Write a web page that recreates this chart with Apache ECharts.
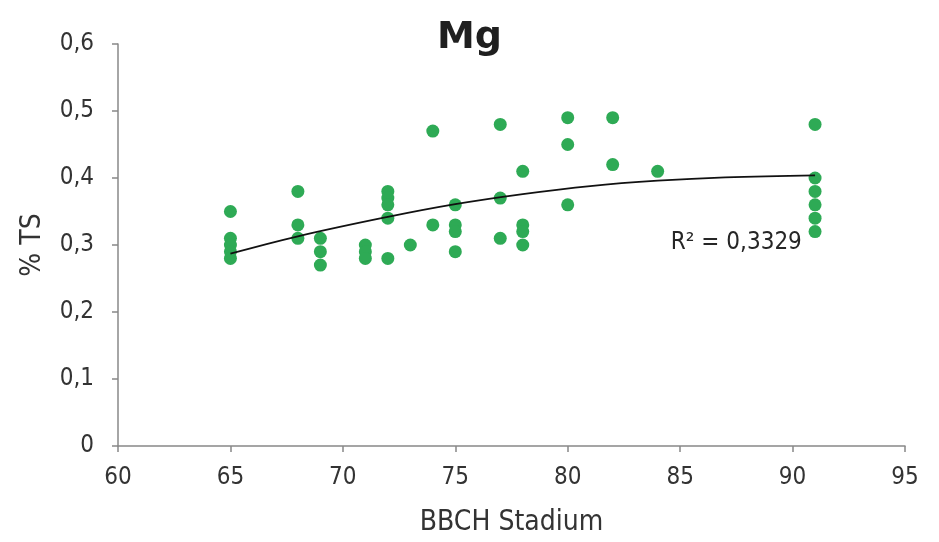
<!DOCTYPE html>
<html><head><meta charset="utf-8">
<script src="https://cdn.jsdelivr.net/npm/echarts@6/dist/echarts.min.js"></script>
<style>html,body{margin:0;padding:0;background:#fff}#c{width:939px;height:542px}</style>
</head><body><div id="c"></div>
<script>
const bbch = [65,65,65,65,65, 68,68,68, 69,69,69, 71,71,71, 72,72,72,72,72, 73, 74,74, 75,75,75,75, 77,77,77, 78,78,78,78, 80,80,80, 82,82, 84, 91,91,91,91,91,91];
const mg   = [0.35,0.31,0.30,0.29,0.28, 0.38,0.33,0.31, 0.31,0.29,0.27, 0.30,0.29,0.28, 0.38,0.37,0.36,0.34,0.28, 0.30, 0.47,0.33, 0.36,0.33,0.32,0.29, 0.48,0.37,0.31, 0.41,0.33,0.32,0.30, 0.49,0.45,0.36, 0.49,0.42, 0.41, 0.48,0.40,0.38,0.36,0.34,0.32];
// polynomial trend line
const trendX = [65,68,72,75,78,81,84,87,91];
const trendY = [0.287,0.313,0.342,0.361,0.376,0.388,0.396,0.401,0.404];
const xTicks = [60,65,70,75,80,85,90,95];
const yTicks = [0,0.1,0.2,0.3,0.4,0.5,0.6];
const r2Label = 'R² = 0,3329';
const r2Pos = [87.5,0.304];

const FONT = '"DejaVu Sans Condensed","Liberation Sans Narrow","Roboto",sans-serif';
const chart = echarts.init(document.getElementById('c'));
chart.setOption({
  animation:false,
  backgroundColor:'#fff',
  title:{text:'Mg',left:'center',top:14,textStyle:{fontFamily:'"DejaVu Sans",sans-serif',fontSize:38,fontWeight:'bold',color:'#1f1f1f'}},
  grid:{left:118,right:34,top:44,bottom:95},
  xAxis:{type:'value',min:xTicks[0],max:xTicks[xTicks.length-1],interval:xTicks[1]-xTicks[0],
    name:'BBCH Stadium',nameLocation:'middle',nameGap:63,
    nameTextStyle:{fontFamily:FONT,fontSize:28,color:'#333'},
    axisLine:{lineStyle:{color:'#888',width:1.5}},
    axisTick:{show:true,length:6,lineStyle:{color:'#888',width:1.5}},
    axisLabel:{fontFamily:FONT,fontSize:24,color:'#333',margin:20},
    splitLine:{show:false}},
  yAxis:{type:'value',min:yTicks[0],max:yTicks[yTicks.length-1],interval:0.1,
    name:'% TS',nameLocation:'middle',nameGap:71,nameRotate:90,
    nameTextStyle:{fontFamily:FONT,fontSize:28,color:'#333'},
    axisLine:{show:true,lineStyle:{color:'#888',width:1.5}},
    axisTick:{show:true,length:6,lineStyle:{color:'#888',width:1.5}},
    axisLabel:{fontFamily:FONT,fontSize:24,color:'#333',margin:24,formatter:v=>String(+v.toFixed(1)).replace('.',',')},
    splitLine:{show:false}},
  series:[
    {type:'scatter',data:bbch.map((x,i)=>[x,mg[i]]),symbolSize:13,itemStyle:{color:'#2EAA55',opacity:1},z:2},
    {type:'line',data:trendX.map((x,i)=>[x,trendY[i]]),showSymbol:false,smooth:0.4,lineStyle:{color:'#111',width:1.8},z:3},
    {type:'scatter',data:[r2Pos],symbolSize:0,silent:true,itemStyle:{color:'#262626',opacity:1},
     label:{show:true,position:'inside',formatter:r2Label,fontFamily:FONT,fontSize:24,color:'#262626',opacity:1},z:4}
  ]
});
</script></body></html>
